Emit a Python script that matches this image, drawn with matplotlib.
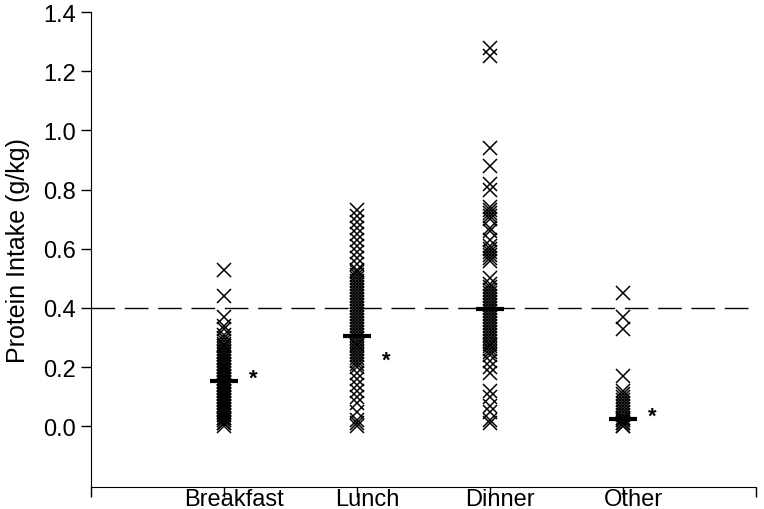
import numpy as np
import matplotlib
matplotlib.use('Agg')
import matplotlib.pyplot as plt
import matplotlib.transforms as mtransforms

plt.rcParams['font.family'] = ['Liberation Sans', 'DejaVu Sans']

meals = ['Breakfast', 'Lunch', 'Dinner', 'Other']

breakfast = [0.53, 0.44, 0.37, 0.34, 0.33, 0.31, 0.30, 0.29, 0.28, 0.27, 0.27, 0.26,
             0.25, 0.25, 0.24, 0.23, 0.23, 0.22, 0.21, 0.21, 0.20, 0.20, 0.19, 0.19,
             0.18, 0.18, 0.17, 0.17, 0.16, 0.16, 0.15, 0.15, 0.14, 0.14, 0.13, 0.13,
             0.12, 0.12, 0.11, 0.11, 0.10, 0.10, 0.09, 0.09, 0.08, 0.08, 0.07, 0.07,
             0.06, 0.06, 0.05, 0.05, 0.04, 0.04, 0.03, 0.03, 0.02, 0.02, 0.01, 0.01, 0.0]
lunch = [0.73, 0.71, 0.69, 0.67, 0.65, 0.63, 0.61, 0.59, 0.57, 0.55, 0.53, 0.52,
         0.51, 0.50, 0.49, 0.48, 0.47, 0.46, 0.45, 0.44, 0.43, 0.42, 0.41, 0.40,
         0.39, 0.38, 0.37, 0.36, 0.35, 0.34, 0.33, 0.32, 0.31, 0.30, 0.29, 0.28,
         0.27, 0.26, 0.25, 0.24, 0.23, 0.22, 0.21, 0.20, 0.18, 0.16, 0.14, 0.12,
         0.10, 0.08, 0.05, 0.02, 0.01, 0.0]
dinner = [1.28, 1.25, 0.94, 0.88, 0.82, 0.80, 0.74, 0.73, 0.72, 0.71, 0.70, 0.67,
          0.66, 0.63, 0.61, 0.60, 0.59, 0.58, 0.57, 0.56, 0.50, 0.48, 0.47, 0.46,
          0.45, 0.44, 0.43, 0.42, 0.41, 0.40, 0.39, 0.38, 0.37, 0.36, 0.35, 0.34,
          0.33, 0.32, 0.31, 0.30, 0.29, 0.28, 0.27, 0.26, 0.25, 0.24, 0.22, 0.20,
          0.18, 0.12, 0.10, 0.07, 0.05, 0.02, 0.01]
other = [0.45, 0.37, 0.33, 0.17, 0.12, 0.11, 0.10, 0.09, 0.08, 0.07, 0.06, 0.05,
         0.04, 0.03, 0.03, 0.02, 0.02, 0.01, 0.01, 0.0, 0.0]

means = [0.155, 0.305, 0.395, 0.025]
star_y = [0.145, 0.205, 0.015]
star_meals = [0, 1, 3]
reference = 0.4

fig = plt.figure(figsize=(7.64, 5.10), dpi=100)
ax = fig.add_axes([0.119, 0.043, 0.8705, 0.9315])

for i, vals in enumerate([breakfast, lunch, dinner, other]):
    xs = np.full(len(vals), i + 1)
    ax.plot(xs, vals, linestyle='none', marker='x', markersize=10,
            markeredgewidth=1.1, color='black')
    ax.plot(i + 1, means[i], linestyle='none', marker='_', markersize=20,
            markeredgewidth=3, color='black', zorder=5)

for i, y in zip(star_meals, star_y):
    ax.text(i + 1.22, y, '*', fontsize=16, fontweight='bold', ha='center', va='baseline')

ax.axhline(reference, color='black', linewidth=1, dashes=(17, 7))

ax.set_xlim(0, 5)
ax.set_ylim(-0.205, 1.4)
ax.set_xticks(range(0, 6))
ax.set_xticklabels([''] + meals + [''], fontsize=17)
ax.set_yticks(np.arange(0, 1.41, 0.2))
ax.set_yticklabels(['%.1f' % v for v in np.arange(0, 1.41, 0.2)], fontsize=17)
ax.set_ylabel('Protein Intake (g/kg)', fontsize=18, labelpad=10)

ax.spines['top'].set_visible(False)
ax.spines['right'].set_visible(False)
ax.tick_params(direction='out', length=7, width=1)
ax.tick_params(axis='x', pad=-6)

offset = mtransforms.ScaledTranslation(0.1, 0, fig.dpi_scale_trans)
for lab in ax.get_xticklabels():
    lab.set_transform(lab.get_transform() + offset)

fig.savefig('out.png', dpi=100)
